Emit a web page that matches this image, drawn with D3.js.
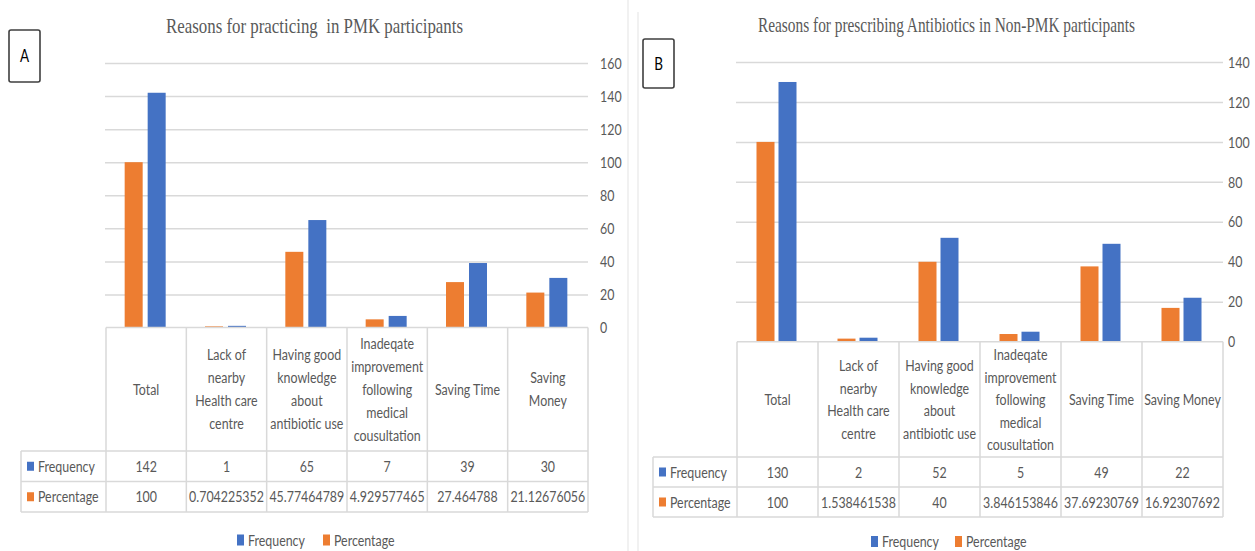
<!DOCTYPE html>
<html>
<head>
<meta charset="utf-8">
<script src="https://cdn.jsdelivr.net/npm/d3@7"></script>
<style>
  html, body { margin: 0; padding: 0; background: #ffffff; }
  svg { display: block; }
</style>
</head>
<body>
<svg id="chart" width="1255" height="551"></svg>
<script>
// ---- data ----
const categories = [
  "Total",
  "Lack of nearby Health care centre",
  "Having good knowledge about antibiotic use",
  "Inadeqate improvement following medical cousultation",
  "Saving Time",
  "Saving Money"
];
const headerLinesA = [
  ["Total"],
  ["Lack of", "nearby", "Health care", "centre"],
  ["Having good", "knowledge", "about", "antibiotic use"],
  ["Inadeqate", "improvement", "following", "medical", "cousultation"],
  ["Saving Time"],
  ["Saving", "Money"]
];
const headerLinesB = [
  ["Total"],
  ["Lack of", "nearby", "Health care", "centre"],
  ["Having good", "knowledge", "about", "antibiotic use"],
  ["Inadeqate", "improvement", "following", "medical", "cousultation"],
  ["Saving Time"],
  ["Saving Money"]
];
const seriesNames = ["Frequency", "Percentage"];

const frequencyA  = [142, 1, 65, 7, 39, 30];
const percentageA = [100, 0.704225352, 45.77464789, 4.929577465, 27.464788, 21.12676056];
const frequencyB  = [130, 2, 52, 5, 49, 22];
const percentageB = [100, 1.538461538, 40, 3.846153846, 37.69230769, 16.92307692];

const yTicksA = [0, 20, 40, 60, 80, 100, 120, 140, 160];
const yTicksB = [0, 20, 40, 60, 80, 100, 120, 140];

const titleA = "Reasons for practicing  in PMK participants";
const titleB = "Reasons for prescribing Antibiotics in Non-PMK participants";

// ---- styling ----
const BLUE = "#4472C4";
const ORANGE = "#ED7D31";
const TEXT = "#595959";
const GRID = "#D9D9D9";
const SANS = "Lato, 'Open Sans', sans-serif";
const SERIF = "'Liberation Serif', 'Times New Roman', serif";
const SY = 1.3;        // vertical stretch of all lettering
const FS = 12.4;       // body font size

const svg = d3.select("#chart");

function stretchedText(parent, x, y, str, opt = {}) {
  const t = parent.append("text")
    .attr("transform", `translate(${x},${y}) scale(1,${opt.sy || SY})`)
    .attr("text-anchor", opt.anchor || "middle")
    .attr("dy", opt.dy !== undefined ? opt.dy : "0.35em")
    .style("font-family", opt.family || SANS)
    .style("font-size", (opt.size || FS) + "px")
    .style("fill", opt.fill || TEXT)
    .style("white-space", "pre")
    .text(str);
  if (opt.length) t.attr("textLength", opt.length).attr("lengthAdjust", "spacingAndGlyphs");
  return t;
}

// panel frames
svg.append("line").attr("x1", 628).attr("x2", 628).attr("y1", 0).attr("y2", 551)
  .attr("stroke", "#E3E3E3").attr("stroke-width", 1);
svg.append("line").attr("x1", 638).attr("x2", 638).attr("y1", 12).attr("y2", 551)
  .attr("stroke", "#E3E3E3").attr("stroke-width", 1);

function drawPanel(cfg) {
  const g = svg.append("g");

  // title
  stretchedText(g, cfg.titleX, cfg.titleBaseline, cfg.title, {
    family: SERIF, size: 16.5, dy: 0, length: cfg.titleWidth, fill: "#595959"
  });

  // letter box
  g.append("rect")
    .attr("x", cfg.box.x).attr("y", cfg.box.y)
    .attr("width", cfg.box.w).attr("height", cfg.box.h)
    .attr("rx", 2).attr("fill", "#fff")
    .attr("stroke", "#3F3F3F").attr("stroke-width", 1.6);
  stretchedText(g, cfg.box.x + cfg.box.w / 2, cfg.box.y + cfg.box.h / 2, cfg.box.label, {
    fill: "#000", size: 13.5
  });

  const x = d3.scaleBand().domain(categories).range(cfg.xRange).padding(0);
  const y = d3.scaleLinear().domain([0, cfg.yMax]).range(cfg.yRange);

  // gridlines
  const grid = g.append("g")
    .attr("transform", `translate(${cfg.gridRight},0)`)
    .call(d3.axisLeft(y).tickValues(cfg.ticks.filter(d => d > 0))
      .tickSize(cfg.gridRight - cfg.gridLeft).tickFormat(""));
  grid.select(".domain").remove();
  grid.selectAll("line").attr("stroke", GRID).attr("stroke-width", 1.5);

  // value axis on the right
  const ax = g.append("g")
    .attr("transform", `translate(${cfg.labelX},0)`)
    .call(d3.axisRight(y).tickValues(cfg.ticks).tickSize(0).tickPadding(0));
  ax.select(".domain").remove();
  ax.selectAll("text")
    .attr("transform", `scale(1,${SY})`)
    .style("font-family", SANS).style("font-size", FS + "px").style("fill", TEXT);

  // bars
  const bw = cfg.barW, gap = cfg.barGap;
  const series = [
    { name: seriesNames[1], values: cfg.percentage, color: ORANGE, off: -gap / 2 - bw },
    { name: seriesNames[0], values: cfg.frequency, color: BLUE, off: gap / 2 }
  ];
  series.forEach(s => {
    g.append("g").selectAll("rect")
      .data(categories.map((c, i) => ({ c, v: s.values[i] })))
      .join("rect")
      .attr("x", d => x(d.c) + x.bandwidth() / 2 + s.off + cfg.barShift)
      .attr("y", d => y(d.v))
      .attr("width", bw)
      .attr("height", d => y(0) - y(d.v))
      .attr("fill", s.color);
  });

  // data table
  const tg = g.append("g");
  const top = y(0);
  const left = cfg.xRange[0], right = cfg.xRange[1];
  const rowsY = [cfg.headerBottom, cfg.row1Bottom, cfg.row2Bottom];
  const line = (x1, y1, x2, y2) => tg.append("line")
    .attr("x1", x1).attr("y1", y1).attr("x2", x2).attr("y2", y2)
    .attr("stroke", GRID).attr("stroke-width", 1.5);
  line(left, top, right, top);
  rowsY.forEach(ry => line(cfg.rowLabelLeft, ry, right, ry));
  categories.forEach(c => line(x(c), top, x(c), cfg.row2Bottom));
  line(right, top, right, cfg.row2Bottom);
  line(cfg.rowLabelLeft, cfg.headerBottom, cfg.rowLabelLeft, cfg.row2Bottom);

  // header labels
  const hMid = (top + cfg.headerBottom) / 2;
  categories.forEach((c, i) => {
    const lines = cfg.headerLines[i];
    lines.forEach((ln, k) => {
      stretchedText(tg, x(c) + x.bandwidth() / 2, hMid + (k - (lines.length - 1) / 2) * cfg.lineGap, ln);
    });
  });

  // value rows
  const rowDefs = [
    { name: seriesNames[0], values: cfg.frequency, color: BLUE, y0: cfg.headerBottom, y1: cfg.row1Bottom },
    { name: seriesNames[1], values: cfg.percentage, color: ORANGE, y0: cfg.row1Bottom, y1: cfg.row2Bottom }
  ];
  rowDefs.forEach(r => {
    const cy = (r.y0 + r.y1) / 2;
    tg.append("rect").attr("x", cfg.rowLabelLeft + 6).attr("y", cy - 4.5)
      .attr("width", 7).attr("height", 9).attr("fill", r.color);
    stretchedText(tg, cfg.rowLabelLeft + 17, cy, r.name, { anchor: "start" });
    categories.forEach((c, i) => {
      stretchedText(tg, x(c) + x.bandwidth() / 2, cy, String(r.values[i]));
    });
  });

  // legend
  const lg = g.append("g");
  [{ name: seriesNames[0], color: BLUE }, { name: seriesNames[1], color: ORANGE }].forEach((d, i) => {
    const lx = cfg.legendX[i];
    lg.append("rect").attr("x", lx).attr("y", cfg.legendY - 5.5)
      .attr("width", 7).attr("height", 11).attr("fill", d.color);
    stretchedText(lg, lx + 11, cfg.legendY, d.name, { anchor: "start" });
  });
}

drawPanel({
  title: titleA, titleX: 314.5, titleBaseline: 33, titleWidth: 297,
  box: { x: 9, y: 30, w: 31, h: 52, label: "A" },
  xRange: [106, 588], yRange: [327.5, 63], yMax: 160, ticks: yTicksA,
  gridLeft: 105, gridRight: 588, labelX: 600,
  barW: 18, barGap: 5, barShift: -1,
  headerLines: headerLinesA, lineGap: 23,
  headerBottom: 451, row1Bottom: 481.5, row2Bottom: 512, rowLabelLeft: 21,
  frequency: frequencyA, percentage: percentageA,
  legendX: [237, 323], legendY: 540
});

drawPanel({
  title: titleB, titleX: 946.5, titleBaseline: 32, titleWidth: 377,
  box: { x: 643, y: 39, w: 31, h: 49, label: "B" },
  xRange: [737, 1223], yRange: [341.7, 62], yMax: 140, ticks: yTicksB,
  gridLeft: 736, gridRight: 1223, labelX: 1228,
  barW: 18, barGap: 4, barShift: -1,
  headerLines: headerLinesB, lineGap: 22.5,
  headerBottom: 457, row1Bottom: 487, row2Bottom: 517, rowLabelLeft: 653,
  frequency: frequencyB, percentage: percentageB,
  legendX: [871, 955], legendY: 541.5
});
</script>
</body>
</html>
